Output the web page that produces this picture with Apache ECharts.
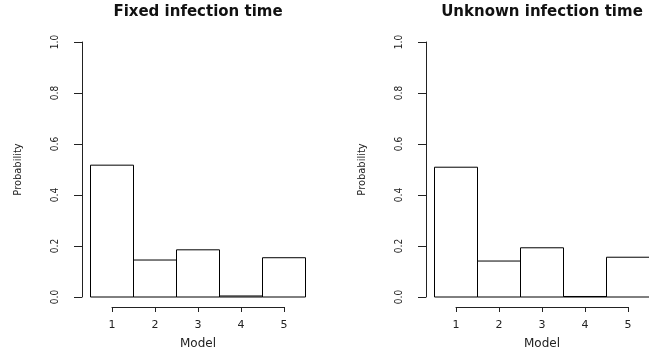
<!DOCTYPE html>
<html>
    <head>
        <meta charset="utf-8">
        <script src="https://cdn.jsdelivr.net/npm/echarts@6/dist/echarts.min.js"></script>
        <style>
            html, body { margin: 0; padding: 0; background: #fff; }
        </style>
    </head>
    <body>
    <div id="chart" style="width: 649px;height:347px;"></div>
    </body>
    <script>
        // model index on x, posterior probability on y
        const models = [1, 2, 3, 4, 5];
        const fixedProb = [0.517, 0.145, 0.185, 0.004, 0.154];
        const unknownProb = [0.509, 0.141, 0.193, 0.002, 0.156];
        const titles = ['Fixed infection time', 'Unknown infection time'];

        const ink = '#222';
        const narrow = "'Liberation Sans Narrow', 'DejaVu Sans Condensed', 'Liberation Sans', sans-serif";

        // one rectangle per model, one unit wide, centred on the tick
        function renderBar(params, api) {
            let x = api.value(0), y = api.value(1);
            let p0 = api.coord([x - 0.5, y]);
            let p1 = api.coord([x + 0.5, 0]);
            return {
                type: 'rect',
                shape: {x: p0[0], y: p0[1], width: p1[0] - p0[0], height: p1[1] - p0[1]},
                style: {fill: '#fff', stroke: '#000', lineWidth: 1}
            };
        }

        function xAxisFor(i) {
            return {
                gridIndex: i, type: 'value', min: 1, max: 5, interval: 1,
                offset: 10,
                name: 'Model', nameLocation: 'middle', nameGap: 31,
                nameTextStyle: {fontFamily: 'DejaVu Sans', fontSize: 12, color: ink},
                axisLine: {show: true, onZero: false, lineStyle: {color: ink, width: 1}},
                axisTick: {show: true, length: 5, lineStyle: {color: ink}},
                axisLabel: {fontFamily: 'DejaVu Sans', fontSize: 11, color: ink, margin: 13},
                splitLine: {show: false}
            };
        }

        function yAxisFor(i) {
            return {
                gridIndex: i, type: 'value', min: 0, max: 1, interval: 0.2,
                offset: 30,
                name: 'Probability', nameLocation: 'middle', nameGap: 58, nameRotate: 90,
                nameTextStyle: {fontFamily: narrow, fontSize: 11, color: ink},
                axisLine: {show: true, onZero: false, lineStyle: {color: ink, width: 1}},
                axisTick: {show: true, length: 8, lineStyle: {color: ink}},
                axisLabel: {
                    rotate: 90, margin: 22, fontFamily: narrow, fontSize: 10, color: ink,
                    formatter: v => v.toFixed(1)
                },
                splitLine: {show: false}
            };
        }

        const option = {
            animation: false,
            backgroundColor: '#fff',
            title: [
                {text: titles[0], left: 198, top: 5, textAlign: 'center', padding: 0,
                 textStyle: {fontFamily: 'DejaVu Sans', fontWeight: 'bold', fontSize: 15, color: '#111'}},
                {text: titles[1], left: 542, top: 5, textAlign: 'center', padding: 0,
                 textStyle: {fontFamily: 'DejaVu Sans', fontWeight: 'bold', fontSize: 15, color: '#111'}}
            ],
            grid: [
                {left: 112, width: 172, top: 42, height: 255, outerBoundsMode: 'none', containLabel: false},
                {left: 456, width: 172, top: 42, height: 255, outerBoundsMode: 'none', containLabel: false}
            ],
            xAxis: [xAxisFor(0), xAxisFor(1)],
            yAxis: [yAxisFor(0), yAxisFor(1)],
            series: [
                {type: 'custom', xAxisIndex: 0, yAxisIndex: 0, clip: false, renderItem: renderBar,
                 data: models.map((m, i) => [m, fixedProb[i]])},
                {type: 'custom', xAxisIndex: 1, yAxisIndex: 1, clip: false, renderItem: renderBar,
                 data: models.map((m, i) => [m, unknownProb[i]])}
            ]
        };

        let myChart = echarts.init(document.getElementById('chart'));
        myChart.setOption(option);
    </script>
</html>
